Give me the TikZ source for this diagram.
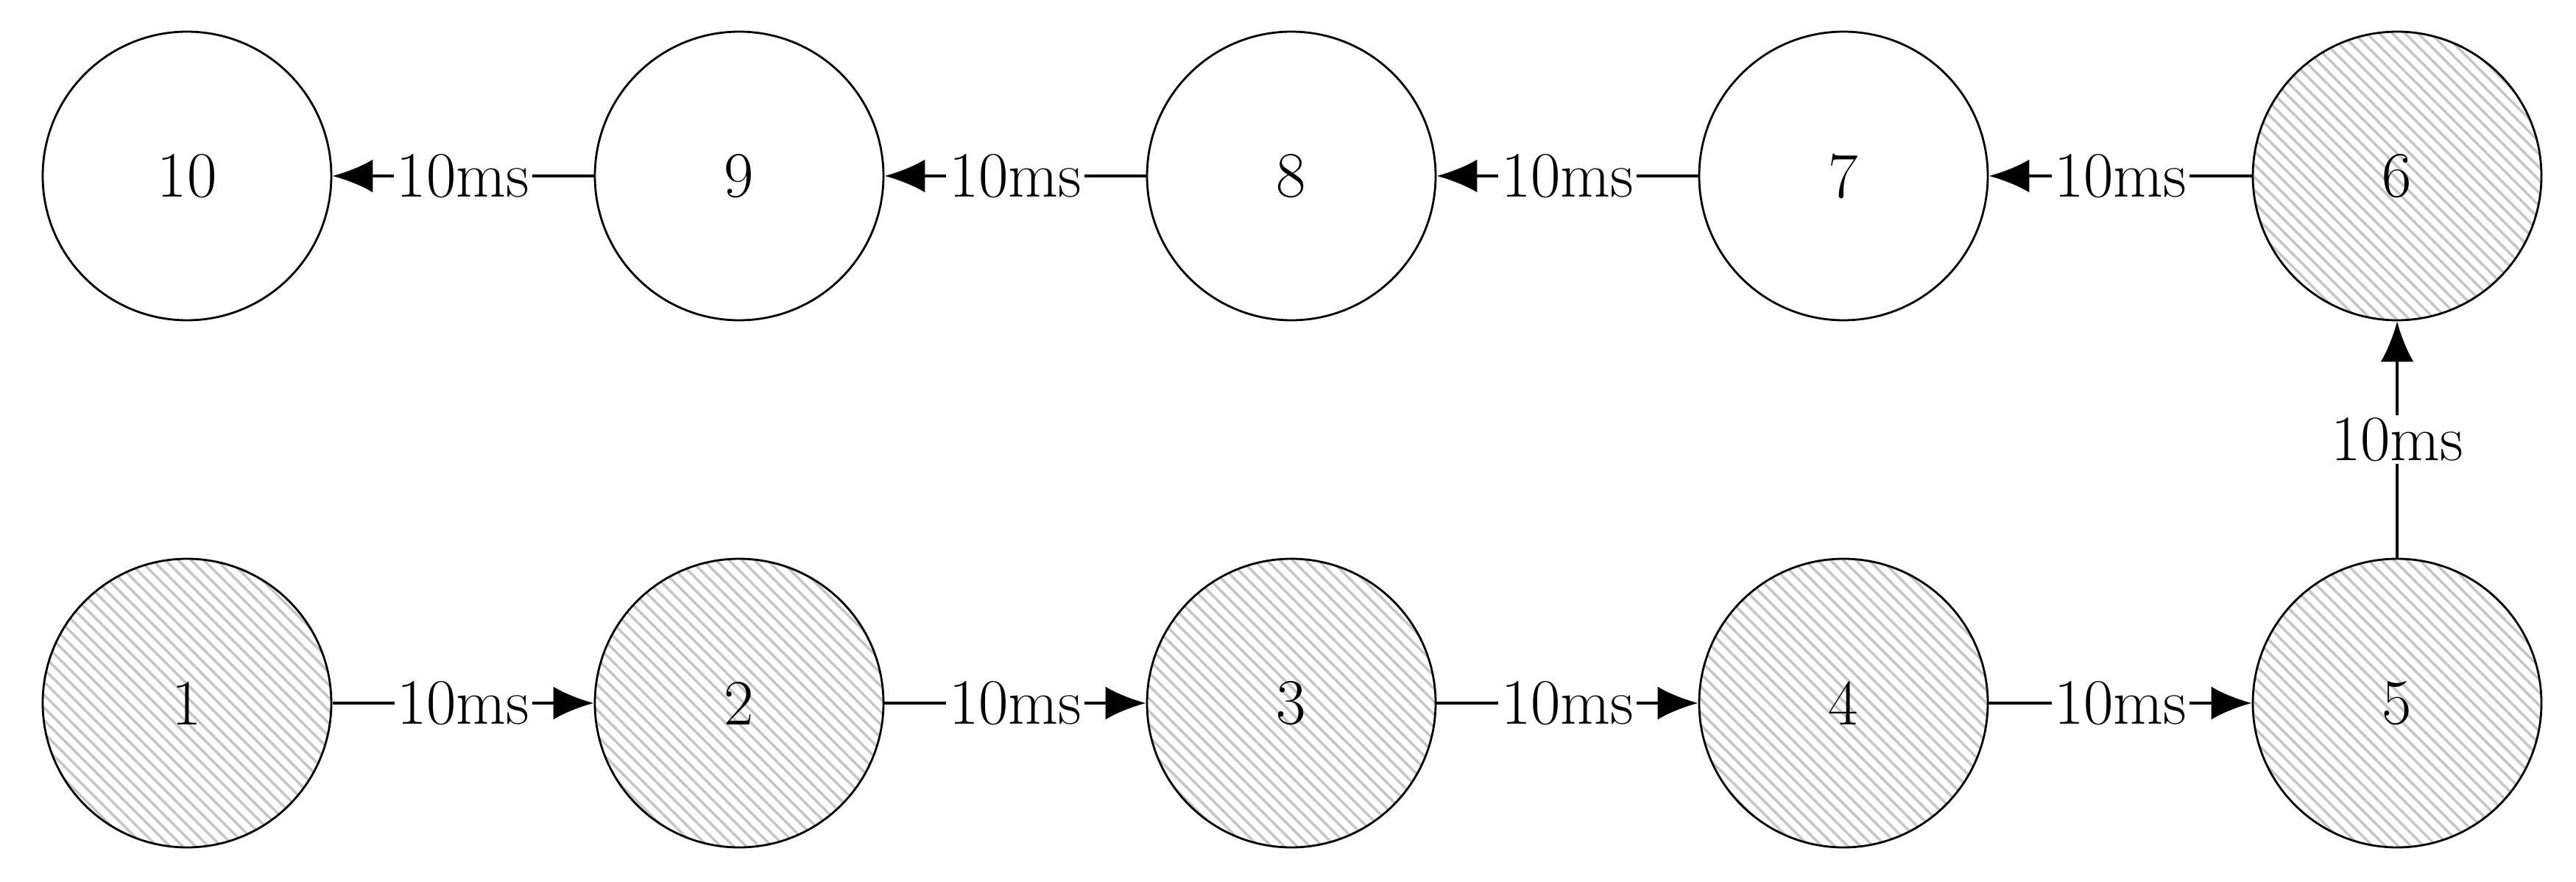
\documentclass[tikz,border=0pt]{standalone}
\usetikzlibrary{arrows.meta,patterns.meta}
\begin{document}
\begin{tikzpicture}[x=1cm,y=1cm,
  st/.style={circle,draw,line width=0.8pt,minimum size=3.92cm,inner sep=0pt,font=\fontsize{25}{29}\selectfont},
  hat/.style={st,pattern={Lines[angle=-45,distance=3.5pt,line width=1pt]},pattern color=gray!45},
  conn/.style={line width=1.3pt,-{Latex[length=0.55cm,width=0.45cm]}},
  lab/.style={fill=white,inner sep=1pt,font=\fontsize{25}{29}\selectfont}]
\useasboundingbox (0,0) rectangle (34.99,11.97);
\node[hat] (n1) at (2.54,2.42) {1};
\node[hat] (n2) at (10.04,2.42) {2};
\node[hat] (n3) at (17.54,2.42) {3};
\node[hat] (n4) at (25.04,2.42) {4};
\node[hat] (n5) at (32.56,2.42) {5};
\node[hat] (n6) at (32.56,9.58) {6};
\node[st] (n7) at (25.04,9.58) {7};
\node[st] (n8) at (17.54,9.58) {8};
\node[st] (n9) at (10.04,9.58) {9};
\node[st] (n10) at (2.54,9.58) {10};
\foreach \a/\b in {n1/n2,n2/n3,n3/n4,n4/n5,n5/n6,n6/n7,n7/n8,n8/n9,n9/n10}
  \draw[conn] (\a) -- node[lab]{10ms} (\b);
\end{tikzpicture}
\end{document}
